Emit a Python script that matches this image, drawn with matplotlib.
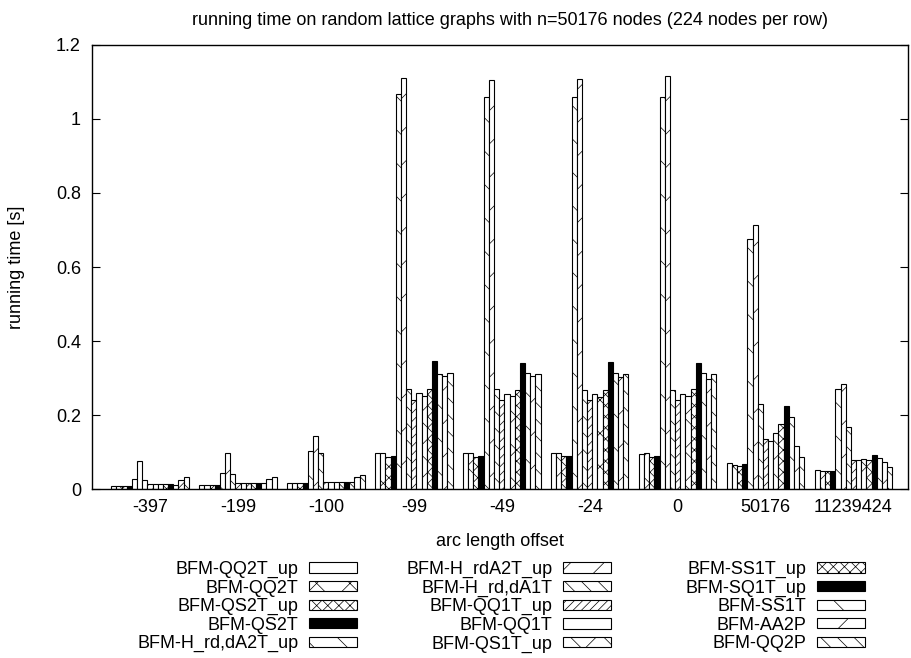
import numpy as np
import matplotlib.pyplot as plt
from matplotlib.patches import Patch

plt.rcParams['font.family'] = ['Liberation Sans', 'DejaVu Sans']
plt.rcParams['font.size'] = 13
plt.rcParams['hatch.linewidth'] = 0.5

# arc length offsets (one cluster per offset)
offsets = ['-397', '-199', '-100', '-99', '-49', '-24', '0', '50176', '11239424']

# running times [s] per algorithm, one value per offset
qq2t_up      = [0.009, 0.012, 0.017, 0.097, 0.097, 0.097, 0.095, 0.070, 0.053]
qq2t         = [0.009, 0.012, 0.017, 0.097, 0.097, 0.097, 0.097, 0.066, 0.050]
qs2t_up      = [0.009, 0.012, 0.017, 0.088, 0.088, 0.089, 0.086, 0.064, 0.049]
qs2t         = [0.009, 0.012, 0.017, 0.089, 0.089, 0.089, 0.090, 0.067, 0.049]
h_rd_da2t_up = [0.028, 0.043, 0.103, 1.067, 1.058, 1.058, 1.060, 0.676, 0.270]
h_rda2t_up   = [0.076, 0.098, 0.144, 1.109, 1.105, 1.107, 1.115, 0.713, 0.283]
h_rd_da1t    = [0.024, 0.041, 0.099, 0.270, 0.270, 0.268, 0.268, 0.229, 0.169]
qq1t_up      = [0.013, 0.016, 0.021, 0.240, 0.240, 0.241, 0.240, 0.136, 0.078]
qq1t         = [0.013, 0.016, 0.021, 0.259, 0.257, 0.256, 0.257, 0.130, 0.078]
qs1t_up      = [0.013, 0.016, 0.021, 0.252, 0.252, 0.250, 0.252, 0.153, 0.082]
ss1t_up      = [0.013, 0.016, 0.021, 0.270, 0.268, 0.268, 0.270, 0.176, 0.080]
sq1t_up      = [0.013, 0.016, 0.021, 0.347, 0.342, 0.344, 0.342, 0.226, 0.092]
ss1t         = [0.012, 0.016, 0.021, 0.311, 0.313, 0.313, 0.313, 0.194, 0.085]
aa2p         = [0.025, 0.027, 0.032, 0.306, 0.305, 0.302, 0.298, 0.117, 0.073]
qq2p         = [0.033, 0.033, 0.038, 0.313, 0.310, 0.310, 0.310, 0.088, 0.059]

series = [
    ('BFM-QQ2T_up', qq2t_up), ('BFM-QQ2T', qq2t), ('BFM-QS2T_up', qs2t_up),
    ('BFM-QS2T', qs2t), ('BFM-H_rd,dA2T_up', h_rd_da2t_up),
    ('BFM-H_rdA2T_up', h_rda2t_up), ('BFM-H_rd,dA1T', h_rd_da1t),
    ('BFM-QQ1T_up', qq1t_up), ('BFM-QQ1T', qq1t), ('BFM-QS1T_up', qs1t_up),
    ('BFM-SS1T_up', ss1t_up), ('BFM-SQ1T_up', sq1t_up), ('BFM-SS1T', ss1t),
    ('BFM-AA2P', aa2p), ('BFM-QQ2P', qq2p),
]

# fill patterns cycle every 8 series: (facecolor, hatch)
patterns = [('white', ''), ('white', 'x'), ('white', 'xxx'), ('black', ''),
            ('white', '\\'), ('white', '/'), ('white', '\\\\'), ('white', '////')]

fig = plt.figure(figsize=(9.11, 6.58), dpi=100)
ax = fig.add_axes([0.101, 0.2564, 0.8957, 0.6756])

n = len(series)
gap = 2
width = 1.0 / (n + gap)
x = np.arange(len(offsets))

handles = []
for j, (label, vals) in enumerate(series):
    fc, hatch = patterns[j % 8]
    ax.bar(x + (j - (n - 1) / 2) * width, vals, width, color=fc, hatch=hatch,
           edgecolor='black', linewidth=0.8)
    handles.append(Patch(facecolor=fc, hatch=hatch, edgecolor='black',
                         linewidth=0.8, label=label))

ax.set_xlim(-0.66, 8.62)
ax.set_ylim(0, 1.2)
ax.set_xticks(x)
ax.set_xticklabels(offsets)
ax.set_yticks(np.arange(0, 1.21, 0.2))
ax.set_yticklabels(['0', '0.2', '0.4', '0.6', '0.8', '1', '1.2'])
ax.tick_params(axis='y', direction='in', length=6, width=0.8, right=True, pad=8)
ax.tick_params(axis='x', length=0, pad=7)
for s in ax.spines.values():
    s.set_linewidth(1.0)

ax.set_title('running time on random lattice graphs with n=50176 nodes (224 nodes per row)',
             fontsize=13, pad=14, x=0.512)
ax.set_xlabel('arc length offset', labelpad=12)
ax.set_ylabel('running time [s]', labelpad=22)

# key below the plot: three columns, label then sample
W, H = 911, 658
col_right = [357, 611, 865]
for c in range(3):
    leg = fig.legend(handles=handles[c * 5:(c + 1) * 5], loc='upper right',
                     bbox_to_anchor=(col_right[c] / W, 1 - 561 / H),
                     bbox_transform=fig.transFigure, frameon=False,
                     markerfirst=False, borderpad=0, borderaxespad=0,
                     handlelength=2.66, handleheight=0.5, handletextpad=0.6,
                     labelspacing=0.08)

fig.savefig('out.png', dpi=100)
